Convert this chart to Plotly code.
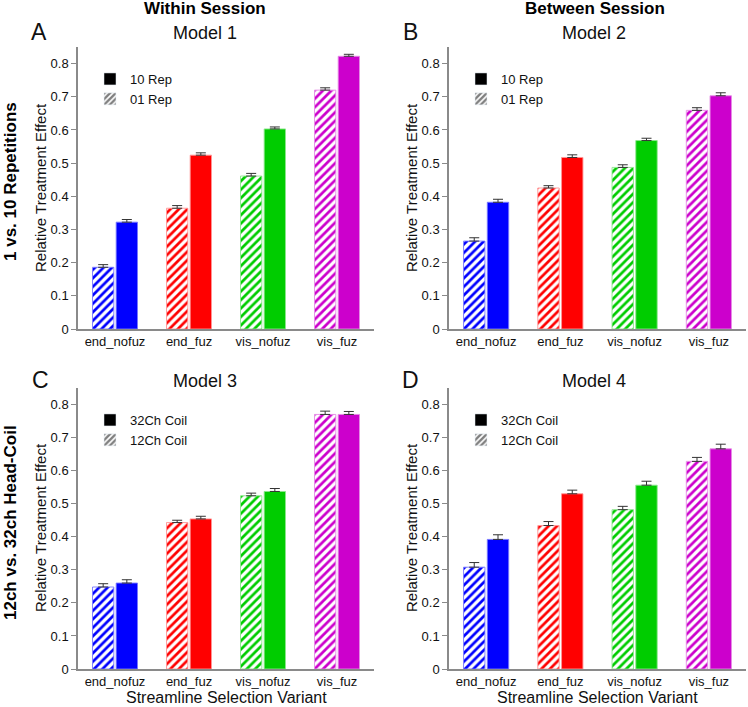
import plotly.graph_objects as go
from plotly.subplots import make_subplots

# Streamline selection variants (x categories)
variants = ['end_nofuz', 'end_fuz', 'vis_nofuz', 'vis_fuz']
colors = ['#0000FF', '#FF0000', '#00CC00', '#CC00CC']
edge_colors = ['rgba(120,120,255,0.9)', 'rgba(255,150,150,0.9)',
               'rgba(140,230,140,0.9)', 'rgba(230,140,230,0.9)']

# Model 1 - within session, 01 vs 10 repetitions
m1_hatched = [0.186, 0.364, 0.461, 0.720]
m1_hatched_err = [0.008, 0.008, 0.008, 0.007]
m1_solid = [0.322, 0.524, 0.603, 0.822]
m1_solid_err = [0.008, 0.007, 0.006, 0.006]

# Model 2 - between session, 01 vs 10 repetitions
m2_hatched = [0.265, 0.425, 0.487, 0.659]
m2_hatched_err = [0.010, 0.007, 0.008, 0.008]
m2_solid = [0.382, 0.517, 0.568, 0.703]
m2_solid_err = [0.009, 0.008, 0.007, 0.009]

# Model 3 - within session, 12ch vs 32ch coil
m3_hatched = [0.248, 0.443, 0.524, 0.770]
m3_hatched_err = [0.010, 0.007, 0.008, 0.010]
m3_solid = [0.260, 0.454, 0.537, 0.770]
m3_solid_err = [0.010, 0.008, 0.009, 0.009]

# Model 4 - between session, 12ch vs 32ch coil
m4_hatched = [0.308, 0.434, 0.482, 0.628]
m4_hatched_err = [0.014, 0.012, 0.010, 0.012]
m4_solid = [0.392, 0.530, 0.556, 0.666]
m4_solid_err = [0.014, 0.011, 0.012, 0.014]

panels = [
    # (row, col, hatched, hatched_err, solid, solid_err, solid name, hatched name, legend id)
    (1, 1, m1_hatched, m1_hatched_err, m1_solid, m1_solid_err, '10 Rep', '01 Rep', 'legend'),
    (1, 2, m2_hatched, m2_hatched_err, m2_solid, m2_solid_err, '10 Rep', '01 Rep', 'legend2'),
    (2, 1, m3_hatched, m3_hatched_err, m3_solid, m3_solid_err, '32Ch Coil', '12Ch Coil', 'legend3'),
    (2, 2, m4_hatched, m4_hatched_err, m4_solid, m4_solid_err, '32Ch Coil', '12Ch Coil', 'legend4'),
]

W, H = 748, 707
def px(x):
    return x / W
def py(y):
    return 1 - y / H

fig = make_subplots(rows=2, cols=2)

for row, col, hv, he, sv, se, sname, hname, leg in panels:
    fig.add_trace(go.Bar(
        x=variants, y=hv, showlegend=False, offsetgroup='h',
        marker=dict(color='white', line=dict(color=edge_colors, width=1),
                    pattern=dict(shape='/', fgcolor=colors, bgcolor='white',
                                 size=6, solidity=0.45, fillmode='replace')),
        error_y=dict(type='data', array=he, arrayminus=[0] * 4, symmetric=False,
                     color='#333333', thickness=1, width=5),
    ), row=row, col=col)
    fig.add_trace(go.Bar(
        x=variants, y=sv, showlegend=False, offsetgroup='s',
        marker=dict(color=colors, line=dict(color=edge_colors, width=1)),
        error_y=dict(type='data', array=se, arrayminus=[0] * 4, symmetric=False,
                     color='#333333', thickness=1, width=5),
    ), row=row, col=col)
    # legend entries (black solid / black hatched)
    fig.add_trace(go.Bar(x=[None], y=[None], name=sname, legend=leg, offsetgroup='s',
                         marker=dict(color='black')), row=row, col=col)
    fig.add_trace(go.Bar(x=[None], y=[None], name=hname, legend=leg, offsetgroup='h',
                         marker=dict(color='white', pattern=dict(shape='/', fgcolor='black',
                                                                 bgcolor='white', size=5,
                                                                 solidity=0.6))),
                  row=row, col=col)

xdom_left = [px(78), px(374)]
xdom_right = [px(449), px(746)]
ydom_top = [py(329), py(47)]
ydom_bot = [py(669), py(388)]

axis_font = dict(family='Liberation Sans, Arial', size=13, color='#111111')
for i, (xd, yd) in enumerate([(xdom_left, ydom_top), (xdom_right, ydom_top),
                              (xdom_left, ydom_bot), (xdom_right, ydom_bot)]):
    sfx = '' if i == 0 else str(i + 1)
    fig.layout['xaxis' + sfx].update(domain=xd, showline=True, linecolor='#8a8a8a',
                                     linewidth=1.5, ticks='', tickfont=axis_font,
                                     showgrid=False, range=[-0.5, 3.5], automargin=False)
    fig.layout['yaxis' + sfx].update(domain=yd, showline=True, linecolor='#8a8a8a',
                                     linewidth=1.5, ticks='outside', ticklen=5,
                                     tickcolor='#8a8a8a', tickfont=axis_font,
                                     range=[0, 0.85], dtick=0.1, tick0=0,
                                     showgrid=False, zeroline=False, automargin=False)

leg_font = dict(family='Liberation Sans, Arial', size=13, color='#111111')
leg_common = dict(font=leg_font, bgcolor='rgba(0,0,0,0)', xanchor='left',
                  yanchor='top', traceorder='normal', itemwidth=30, tracegroupgap=0)
fig.update_layout(
    legend=dict(x=px(90), y=py(64), **leg_common),
    legend2=dict(x=px(461), y=py(64), **leg_common),
    legend3=dict(x=px(90), y=py(405), **leg_common),
    legend4=dict(x=px(461), y=py(405), **leg_common),
)

annotations = []
def label(text, x, y, size, bold=False, angle=0, color='#111111'):
    t = '<b>%s</b>' % text if bold else text
    annotations.append(dict(text=t, x=px(x), y=py(y), xref='paper', yref='paper',
                            showarrow=False, xanchor='center', yanchor='middle',
                            textangle=angle,
                            font=dict(family='Liberation Sans, Arial', size=size, color=color)))

label('Within Session', 205, 9, 17, bold=True, color='black')
label('Between Session', 595, 9, 17, bold=True, color='black')
label('Model 1', 205, 33, 18)
label('Model 2', 594, 33, 18)
label('Model 3', 205, 381, 18)
label('Model 4', 594, 381, 18)
label('A', 39, 32, 23)
label('B', 410, 32, 23)
label('C', 40, 380, 23)
label('D', 410, 380, 23)
label('1 vs. 10 Repetitions', 10, 182, 17, bold=True, angle=-90, color='black')
label('12ch vs. 32ch Head-Coil', 10, 523, 17, bold=True, angle=-90, color='black')
for x, y in [(40, 188), (411, 188), (40, 528), (411, 528)]:
    label('Relative Treatment Effect', x, y, 15, angle=-90)
for x, y in [(226, 697), (597, 697)]:
    label('Streamline Selection Variant', x, y, 16)

fig.update_layout(
    width=W, height=H, autosize=False,
    margin=dict(l=0, r=0, t=0, b=0),
    paper_bgcolor='white', plot_bgcolor='white',
    barmode='group', bargap=0.36, bargroupgap=0.1,
    annotations=annotations,
    font=dict(family='Liberation Sans, Arial', color='#111111'),
)

# drop the default 8px page margin so the figure sits at the window origin
fig.write_html("out.html", config={'displayModeBar': False},
               post_script="document.body.style.margin='0px';")
